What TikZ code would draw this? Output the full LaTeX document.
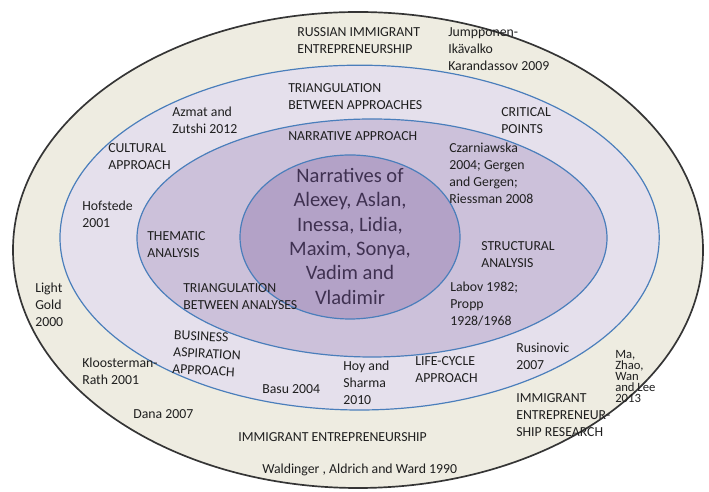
\documentclass[tikz,border=0pt]{standalone}
\usepackage{fontspec}
\setmainfont{Carlito}
\usepackage{tikz}

\definecolor{outerfill}{HTML}{EEECE1}
\definecolor{ringfill}{HTML}{E5E0EC}
\definecolor{midfill}{HTML}{CCC1DA}
\definecolor{corefill}{HTML}{B3A2C7}
\definecolor{ringline}{HTML}{4A7EBB}
\definecolor{outerline}{HTML}{353535}
\definecolor{lbltext}{HTML}{1F1F1F}
\definecolor{coretext}{HTML}{3F3151}

\begin{document}
\begin{tikzpicture}[
    lbl/.style={align=left, anchor=west, inner sep=0pt, text=lbltext, font=\fontsize{9.8}{12.1}\selectfont},
    tinylbl/.style={lbl, font=\fontsize{9}{7.7}\selectfont},
    ring/.style={draw=ringline, line width=0.85pt}
  ]

    \useasboundingbox (0,0) rectangle (17.725,12.3);

    \draw[fill=outerfill, draw=outerline, line width=1.2pt] (8.95,6.05) ellipse [x radius=8.625, y radius=5.95];

    \draw[ring, fill=ringfill] (8.99,6.36) ellipse [x radius=7.49, y radius=4.31];

    \draw[ring, fill=midfill] (9.3,6.35) ellipse [x radius=5.875, y radius=2.975];

    \draw[ring, fill=corefill] (8.75,6.375) ellipse [x radius=2.75, y radius=2.05];


    \node[align=center, inner sep=0pt, text=coretext, font=\fontsize{14.6}{17.3}\selectfont] (core) at (8.75,6.39) {Narratives of\\Alexey, Aslan,\\Inessa, Lidia,\\Maxim, Sonya,\\Vadim and\\Vladimir};


    \node[lbl] (russian) at (7.425,11.29) {RUSSIAN IMMIGRANT\\ENTREPRENEURSHIP};

    \node[lbl] (jumpponen) at (11.2,11.06) {Jumpponen-\\Ikävalko\\Karandassov 2009};

    \node[lbl] (triapproach) at (7.2,9.875) {TRIANGULATION\\BETWEEN APPROACHES};

    \node[lbl] (azmat) at (4.3,9.29) {Azmat and\\Zutshi 2012};

    \node[lbl] (critical) at (12.525,9.275) {CRITICAL\\POINTS};

    \node[lbl] (narrative) at (7.2,8.9) {NARRATIVE APPROACH};

    \node[lbl] (cultural) at (2.7,8.39) {CULTURAL\\APPROACH};

    \node[lbl] (czarniawska) at (11.225,7.975) {Czarniawska\\2004; Gergen\\and Gergen;\\Riessman 2008};

    \node[lbl] (hofstede) at (2.05,6.94) {Hofstede\\2001};

    \node[lbl] (thematic) at (3.675,6.19) {THEMATIC\\ANALYSIS};

    \node[lbl] (structural) at (12.025,5.925) {STRUCTURAL\\ANALYSIS};

    \node[lbl] (light) at (0.875,4.69) {Light\\Gold\\2000};

    \node[lbl] (trianalysis) at (4.575,4.89) {TRIANGULATION\\BETWEEN ANALYSES};

    \node[lbl] (labov) at (11.25,4.69) {Labov 1982;\\Propp\\1928/1968};

    \node[lbl, rotate=-3] (business) at (4.325,3.5) {BUSINESS\\ASPIRATION\\APPROACH};

    \node[lbl] (kloosterman) at (2.05,3.025) {Kloosterman-\\Rath 2001};

    \node[lbl] (dana) at (3.325,1.95) {Dana 2007};

    \node[lbl] (basu) at (6.55,2.575) {Basu 2004};

    \node[lbl] (hoy) at (8.575,2.725) {Hoy and\\Sharma\\2010};

    \node[lbl] (lifecycle) at (10.375,3.05) {LIFE-CYCLE\\APPROACH};

    \node[lbl] (rusinovic) at (12.9,3.4) {Rusinovic\\2007};

    \node[tinylbl] (ma) at (15.375,2.89) {Ma,\\Zhao,\\Wan\\and Lee\\2013};

    \node[lbl] (imresearch) at (12.9,1.925) {IMMIGRANT\\ENTREPRENEUR-\\SHIP RESEARCH};

    \node[lbl] (imentrep) at (5.95,1.375) {IMMIGRANT ENTREPRENEURSHIP};

    \node[lbl] (waldinger) at (6.55,0.55) {Waldinger , Aldrich and Ward 1990};

  \end{tikzpicture}
\end{document}
